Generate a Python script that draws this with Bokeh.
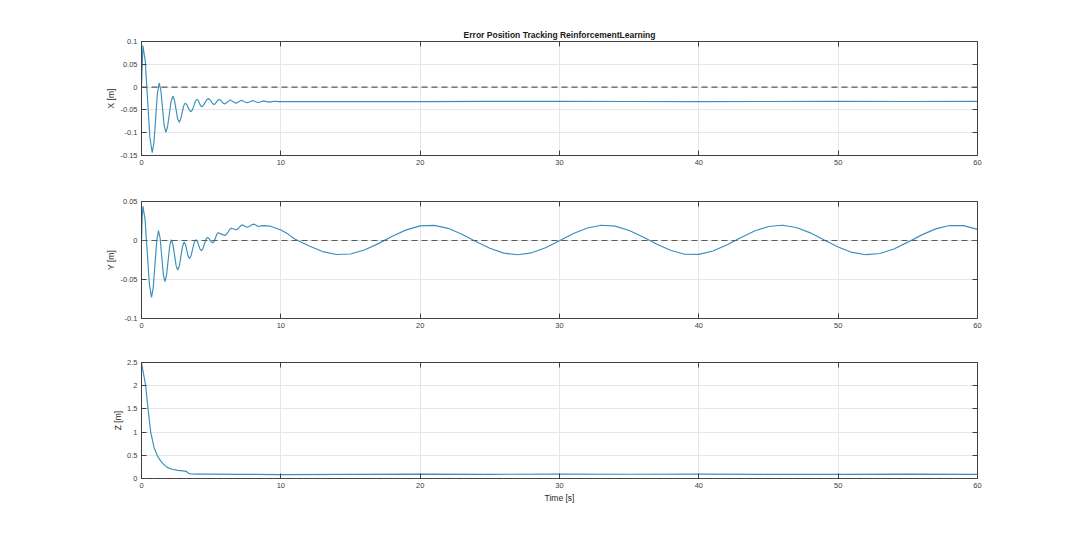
from bokeh.plotting import figure
from bokeh.models import Range1d, FixedTicker, LinearAxis, Span
from bokeh.layouts import column
from bokeh.embed import file_html
from bokeh.resources import INLINE

# ---------------- data ----------------
title_text = "Error Position Tracking ReinforcementLearning"

time_ticks = [0, 10, 20, 30, 40, 50, 60]
time_tick_labels = ["0", "10", "20", "30", "40", "50", "60"]

x_ticks = [-0.15, -0.1, -0.05, 0, 0.05, 0.1]
x_tick_labels = ["-0.15", "-0.1", "-0.05", "0", "0.05", "0.1"]
y_ticks = [-0.1, -0.05, 0, 0.05]
y_tick_labels = ["-0.1", "-0.05", "0", "0.05"]
z_ticks = [0, 0.5, 1, 1.5, 2, 2.5]
z_tick_labels = ["0", "0.5", "1", "1.5", "2", "2.5"]

# X error [m]
t_x = [0, 0.1, 0.27, 0.435, 0.60, 0.77, 0.895, 1.02, 1.145, 1.27, 1.39, 1.505, 1.62, 1.74,
       1.87, 1.995, 2.12, 2.25, 2.36, 2.475, 2.59, 2.70, 2.81, 2.92, 3.03, 3.14, 3.24, 3.345,
       3.45, 3.55, 3.655, 3.76, 3.865, 3.97, 4.06, 4.15, 4.24, 4.33, 4.445, 4.56, 4.675, 4.79,
       4.89, 5.0, 5.1, 5.2, 5.295, 5.39, 5.485, 5.58, 5.675, 5.77, 5.865, 5.96, 6.17, 6.38,
       6.58, 6.78, 6.98, 7.18, 7.38, 7.58, 7.78, 7.98, 8.18, 8.38, 8.58, 8.78, 8.98, 9.18,
       9.38, 9.58, 9.8, 10, 15, 20, 25, 30, 35, 40, 45, 50, 55, 60]
err_x = [0, 0.091, 0.057, -0.027, -0.110, -0.144, -0.122, -0.0675, -0.013, 0.009, -0.007,
         -0.045, -0.083, -0.099, -0.087, -0.0595, -0.032, -0.020, -0.028, -0.0485, -0.069,
         -0.077, -0.071, -0.056, -0.041, -0.035, -0.0378, -0.0445, -0.051, -0.054, -0.050,
         -0.0405, -0.031, -0.027, -0.029, -0.035, -0.041, -0.043, -0.040, -0.034, -0.028,
         -0.025, -0.027, -0.0315, -0.036, -0.038, -0.0364, -0.0325, -0.0286, -0.027, -0.0285,
         -0.032, -0.0355, -0.037, -0.0325, -0.028, -0.032, -0.0355, -0.032, -0.0288, -0.032,
         -0.0345, -0.032, -0.0295, -0.032, -0.0338, -0.032, -0.0303, -0.032, -0.0330, -0.0318,
         -0.0310, -0.0318, -0.0316, -0.0318, -0.0317, -0.0314, -0.0313, -0.0315, -0.0318,
         -0.0316, -0.0313, -0.0315, -0.0314]

# Y error [m]
t_y = [0, 0.05, 0.1, 0.255, 0.41, 0.565, 0.72, 0.845, 0.97, 1.095, 1.22, 1.335, 1.45, 1.565,
       1.68, 1.795, 1.91, 2.025, 2.14, 2.255, 2.37, 2.485, 2.6, 2.715, 2.83, 2.945, 3.06,
       3.155, 3.25, 3.345, 3.44, 3.555, 3.67, 3.785, 3.9, 4.0, 4.1, 4.2, 4.3, 4.41, 4.515,
       4.62, 4.73, 4.825, 4.925, 5.02, 5.12, 5.215, 5.31, 5.405, 5.5, 5.74, 5.98, 6.1, 6.22,
       6.34, 6.46, 6.62, 6.78, 6.9, 7.015, 7.13, 7.25, 7.4, 7.56, 7.69, 7.82, 7.95, 8.09,
       8.23, 8.37, 8.58, 8.8, 9.2, 9.6, 10, 10.5, 11, 12, 13, 14, 15, 16, 17, 18, 19, 20, 21,
       22, 23, 24, 25, 26, 27, 28, 29, 30, 31, 32, 33, 34, 35, 36, 37, 38, 39, 40, 41, 42, 43,
       44, 45, 46, 47, 48, 49, 50, 51, 52, 53, 54, 55, 56, 57, 58, 59, 60]
err_y = [0, 0.030, 0.044, 0.027, -0.0145, -0.056, -0.073, -0.060, -0.030, -0.0004, 0.0128,
         0.0032, -0.0199, -0.043, -0.0526, -0.0448, -0.0258, -0.0068, 0.001, -0.0053,
         -0.0185, -0.0323, -0.038, -0.0327, -0.020, -0.0073, -0.002, -0.0051, -0.0125,
         -0.0199, -0.023, -0.0195, -0.011, -0.0025, 0.001, -0.001, -0.006, -0.011, -0.013,
         -0.0105, -0.0045, 0.0015, 0.004, 0.003, 0.0005, -0.002, -0.003, -0.001, 0.0035,
         0.008, 0.010, 0.0082, 0.0064, 0.008, 0.0111, 0.0144, 0.0158, 0.0147, 0.0137, 0.0146,
         0.0168, 0.0191, 0.020, 0.0185, 0.017, 0.0176, 0.019, 0.0204, 0.021, 0.0195, 0.018,
         0.0187, 0.019, 0.0185, 0.016, 0.0135, 0.0085, 0.0020, -0.0067, -0.0142, -0.0180,
         -0.0173, -0.0122, -0.0040, 0.0054, 0.0136, 0.0187, 0.0194, 0.0156, 0.0081, -0.0012,
         -0.0100, -0.0162, -0.0183, -0.0158, -0.0092, -0.0002, 0.0089, 0.0161, 0.0196,
         0.0184, 0.0129, 0.0045, -0.0049, -0.0129, -0.0176, -0.0178, -0.0135, -0.0058,
         0.0035, 0.0122, 0.0180, 0.0196, 0.0167, 0.0098, 0.0007, -0.0084, -0.0153, -0.0182,
         -0.0166, -0.0108, -0.0021, 0.0072, 0.0149, 0.0192, 0.0190, 0.0143]

# Z error [m]
t_z = [0, 0.15, 0.3, 0.47, 0.66, 0.9, 1.18, 1.5, 1.84, 2.2, 2.6, 3.0, 3.2, 3.35, 3.5, 4, 5,
       7, 10, 15, 20, 25, 30, 35, 40, 45, 50, 55, 60]
err_z = [2.49, 2.25, 2.0, 1.5, 1.0, 0.67, 0.46, 0.33, 0.24, 0.20, 0.175, 0.165, 0.155, 0.12,
         0.10, 0.095, 0.093, 0.09, 0.085, 0.088, 0.094, 0.09, 0.096, 0.092, 0.094, 0.09,
         0.088, 0.094, 0.09]

# ---------------- styling ----------------
LINE_COLOR = "#3a8ebd"
AXIS_COLOR = "#404040"
GRID_COLOR = "#e6e6e6"
FONT = "Liberation Sans"


def make_panel(t, v, ylo, yhi, yticks, ylabels, ylabel, height, btop, bbottom,
               xlabel=None, title=None):
    p = figure(width=1072, height=height, output_backend="svg", toolbar_location=None,
               x_range=Range1d(0, 60), y_range=Range1d(ylo, yhi),
               min_border_left=141, min_border_right=95,
               min_border_top=btop, min_border_bottom=bbottom,
               background_fill_color="white", border_fill_color="white",
               outline_line_color=AXIS_COLOR)
    p.xaxis.ticker = FixedTicker(ticks=time_ticks)
    p.yaxis.ticker = FixedTicker(ticks=yticks)
    p.xaxis.major_label_overrides = dict(zip(time_ticks, time_tick_labels))
    p.yaxis.major_label_overrides = dict(zip(yticks, ylabels))
    for ax in (p.xaxis[0], p.yaxis[0]):
        ax.major_tick_in = 5
        ax.major_tick_out = 0
        ax.minor_tick_line_color = None
        ax.axis_line_color = AXIS_COLOR
        ax.major_tick_line_color = AXIS_COLOR
        ax.major_label_text_font = FONT
        ax.major_label_text_font_size = "7.5px"
        ax.major_label_text_color = AXIS_COLOR
        ax.axis_label_text_font = FONT
        ax.axis_label_text_font_size = "8.5px"
        ax.axis_label_text_font_style = "normal"
        ax.axis_label_text_color = "#262626"
        ax.major_label_standoff = 4
    p.yaxis.axis_label_standoff = 1
    p.xaxis.axis_label_standoff = 2
    p.yaxis.axis_label = ylabel
    if xlabel:
        p.xaxis.axis_label = xlabel
    # box axes (top / right) with ticks, no labels
    top = LinearAxis(ticker=FixedTicker(ticks=time_ticks),
                     major_label_overrides={k: "" for k in time_ticks})
    right = LinearAxis(ticker=FixedTicker(ticks=yticks),
                       major_label_overrides={k: "" for k in yticks})
    for ax in (top, right):
        ax.major_tick_in = 5
        ax.major_tick_out = 0
        ax.minor_tick_line_color = None
        ax.axis_line_color = AXIS_COLOR
        ax.major_tick_line_color = AXIS_COLOR
        ax.major_label_standoff = 0
    p.add_layout(top, "above")
    p.add_layout(right, "right")

    p.xgrid.grid_line_color = GRID_COLOR
    p.ygrid.grid_line_color = GRID_COLOR

    p.add_layout(Span(location=0, dimension="width", line_color="#5a5a5a",
                      line_dash="6 4", line_width=1.2))
    p.line(t, v, line_color=LINE_COLOR, line_width=1.15)

    if title:
        p.title.text = title
        p.title.align = "center"
        p.title.text_font = FONT
        p.title.text_font_size = "8.5px"
        p.title.text_font_style = "bold"
        p.title.text_color = "#1a1a1a"
        p.title.standoff = 4
    return p


p1 = make_panel(t_x, err_x, -0.15, 0.1, x_ticks, x_tick_labels, "X [m]", 178, 41, 23,
                title=title_text)
p2 = make_panel(t_y, err_y, -0.1, 0.05, y_ticks, y_tick_labels, "Y [m]", 162, 23, 22)
p3 = make_panel(t_z, err_z, 0, 2.5, z_ticks, z_tick_labels, "Z [m]", 189, 22, 51,
                xlabel="Time [s]")

layout = column(p1, p2, p3, spacing=0)

open("out.html", "w").write(file_html(layout, INLINE))
